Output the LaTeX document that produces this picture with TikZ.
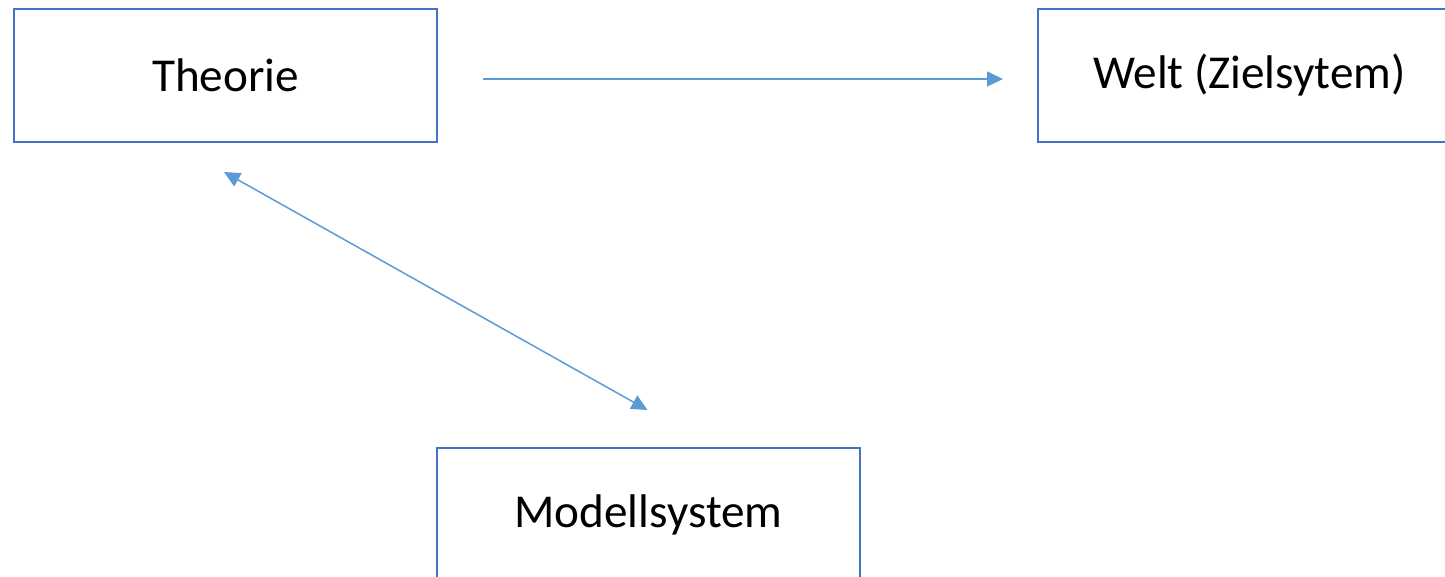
\documentclass[tikz,border=0pt]{standalone}
\usepackage{fontspec}
\setmainfont{Carlito}
\usepackage{tikz}
\usetikzlibrary{arrows.meta,positioning}

\definecolor{boxblue}{HTML}{4472C4}
\definecolor{arrblue}{HTML}{5B9BD5}

\begin{document}
\begin{tikzpicture}[
  x=0.5pt, y=-0.5pt,
  font=\fontsize{23.6}{28}\selectfont,
  box/.style={rectangle, draw=boxblue, line width=1pt, minimum width=211.5pt, minimum height=66.5pt, align=center, fill=white, inner sep=0pt, outer sep=0pt},
  arr/.style={-{Triangle[length=8pt,width=7.5pt]}, line width=0.75pt, arrblue},
  darr/.style={{Triangle[length=8pt,width=7.5pt]}-{Triangle[length=8pt,width=7.5pt]}, line width=0.75pt, arrblue}
]
\useasboundingbox (0,0) rectangle (1445,577);
\node[box] (theo) at (225.5,75.5) {Theorie};
\node[box, right=300.5pt of theo] (welt) {Welt (Zielsytem)};
\node[box, below right=153pt and 0pt of theo.south east] (modell) {Modellsystem};
\draw[arr, shorten <=23pt, shorten >=17.5pt] ([yshift=-1.75pt]theo.east) -- ([yshift=-1.75pt]welt.west);
\draw[darr] ([shift={(-0.75pt,-15pt)}]theo.south) -- ([shift={(-0.5pt,19pt)}]modell.north);
\end{tikzpicture}
\end{document}
